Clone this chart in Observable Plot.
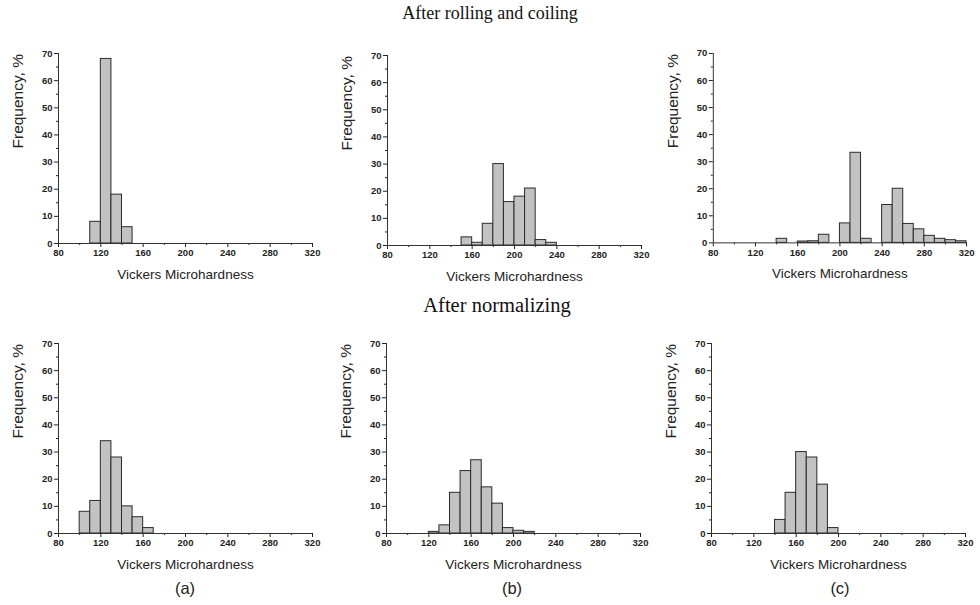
<!DOCTYPE html>
<html>
<head>
<meta charset="utf-8">
<script src="https://cdn.jsdelivr.net/npm/d3@7"></script>
<script src="https://cdn.jsdelivr.net/npm/@observablehq/plot@0.6"></script>
<style>
  html, body { margin: 0; padding: 0; background: #fff; }
  #root { position: relative; width: 980px; height: 605px; overflow: hidden; }
  .pane { position: absolute; }
  .title { position: absolute; font-family: "Liberation Serif", "Times New Roman", serif; font-size: 18px; color: #111; transform: translateX(-50%); white-space: nowrap; }
  .title2 { font-size: 20.5px; }
  .sub { position: absolute; font-family: "Liberation Sans", Arial, sans-serif; font-size: 16.5px; color: #222; transform: translateX(-50%); }
</style>
</head>
<body>
<div id="root"></div>
<script>
// Row titles and panel letters
const rowTitles = ["After rolling and coiling", "After normalizing"];
const panelLetters = ["(a)", "(b)", "(c)"];
const xLabel = "Vickers Microhardness";
const yLabel = "Frequency, %";
const xMajorTicks = [80, 120, 160, 200, 240, 280, 320];
const xMinorTicks = [100, 140, 180, 220, 260, 300];
const yMajorTicks = [0, 10, 20, 30, 40, 50, 60, 70];
const yMinorTicks = [5, 15, 25, 35, 45, 55, 65];
const binWidth = 10;

// After rolling and coiling (bin starts, frequency %)
const rollA_bins = [110, 120, 130, 140];
const rollA_freq = [8, 68, 18, 6];
const rollB_bins = [150, 160, 170, 180, 190, 200, 210, 220, 230];
const rollB_freq = [3, 1, 8, 30, 16, 18, 21, 2, 1];
const rollC_bins = [140, 160, 170, 180, 200, 210, 220, 240, 250, 260, 270, 280, 290, 300, 310];
const rollC_freq = [1.5, 0.5, 0.6, 3, 7.2, 33.3, 1.5, 14, 20, 7, 5, 2.6, 1.5, 1, 0.6];

// After normalizing
const normA_bins = [100, 110, 120, 130, 140, 150, 160];
const normA_freq = [8, 12, 34, 28, 10, 6, 2];
const normB_bins = [120, 130, 140, 150, 160, 170, 180, 190, 200, 210];
const normB_freq = [0.6, 3, 15, 23, 27, 17, 11, 2, 1, 0.6];
const normC_bins = [140, 150, 160, 170, 180, 190];
const normC_freq = [5, 15, 30, 28, 18, 2];

const root = document.getElementById("root");

function panel(bins, freqs, left, top) {
  const data = bins.map((b, i) => ({x1: b, x2: b + binWidth, y: freqs[i]}));
  const svg = Plot.plot({
    width: 326, height: 245,
    marginLeft: 58, marginRight: 14, marginTop: 10, marginBottom: 45,
    x: {domain: [80, 320]},
    y: {domain: [0, 70]},
    style: {fontFamily: "'Liberation Sans', Arial, sans-serif", fontSize: "9.5px", color: "#222", background: "transparent", overflow: "visible"},
    marks: [
      Plot.rect(data, {x1: "x1", x2: "x2", y1: 0, y2: "y", fill: "#c2c2c2", stroke: "#2a2a2a", strokeWidth: 1}),
      Plot.axisX({ticks: xMajorTicks, tickSize: 4, tickPadding: 2, label: null, fontWeight: "bold", fontSize: 9.5}),
      Plot.axisX({ticks: xMinorTicks, tickSize: 2, text: null, label: null}),
      Plot.axisY({ticks: yMajorTicks, tickSize: 4, tickPadding: 2, label: null, fontWeight: "bold", fontSize: 9.5}),
      Plot.axisY({ticks: yMinorTicks, tickSize: 2, text: null, label: null}),
      Plot.ruleY([0], {stroke: "#333"}),
      Plot.ruleX([80], {stroke: "#333"}),
      Plot.text([xLabel], {frameAnchor: "bottom", dy: 35, fontSize: 13.5, fill: "#222"}),
      Plot.text([yLabel], {frameAnchor: "left", dx: -40, rotate: -90, fontSize: 15.5, fill: "#222"})
    ]
  });
  const div = document.createElement("div");
  div.className = "pane";
  div.style.left = left + "px";
  div.style.top = top + "px";
  div.appendChild(svg);
  root.appendChild(div);
}

function addText(cls, text, x, y) {
  const d = document.createElement("div");
  d.className = cls;
  d.textContent = text;
  d.style.left = x + "px";
  d.style.top = y + "px";
  root.appendChild(d);
}

panel(rollA_bins, rollA_freq, 0, 43);
panel(rollB_bins, rollB_freq, 329, 45);
panel(rollC_bins, rollC_freq, 655, 43);
panel(normA_bins, normA_freq, 0, 333);
panel(normB_bins, normB_freq, 328, 333);
panel(normC_bins, normC_freq, 653, 333);

addText("title", rowTitles[0], 490, 3);
addText("title title2", rowTitles[1], 497, 294);
addText("sub", panelLetters[0], 185, 579);
addText("sub", panelLetters[1], 512, 579);
addText("sub", panelLetters[2], 840, 579);
</script>
</body>
</html>
